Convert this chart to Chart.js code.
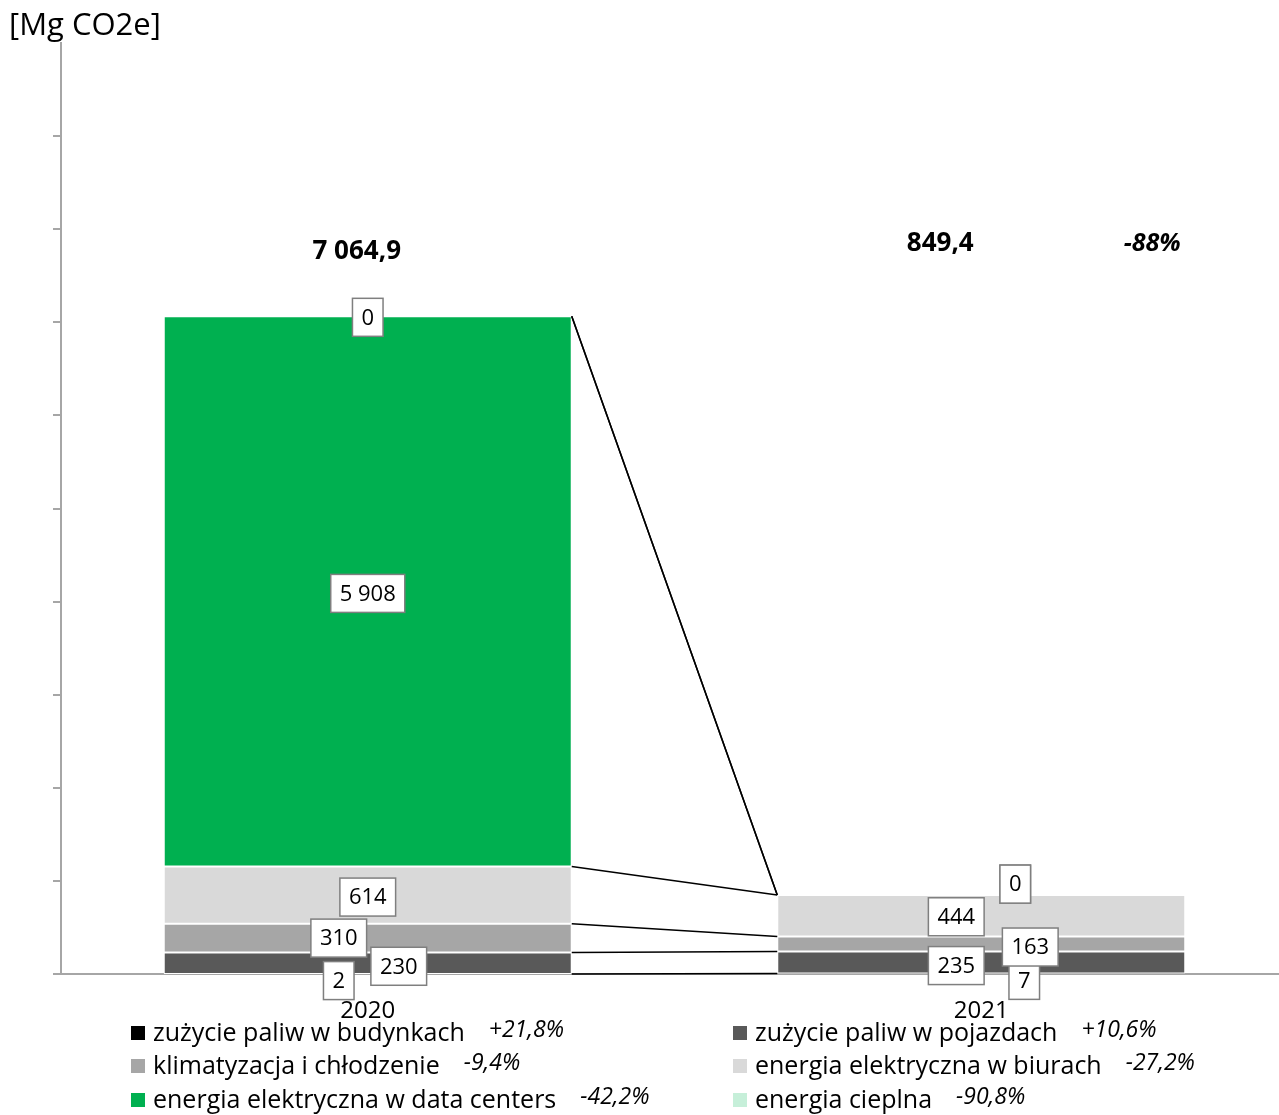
<!DOCTYPE html>
<html lang="pl">
<head>
<meta charset="utf-8">
<script src="https://cdn.jsdelivr.net/npm/chart.js@4.4.1/dist/chart.umd.min.js"></script>
<style>
  html, body { margin: 0; padding: 0; background: #fff; overflow: hidden; }
</style>
</head>
<body>
<canvas id="emisje" width="1290" height="1115"></canvas>
<script>
// lata
var years = ['2020', '2021'];

// emisje wg źródła [Mg CO2e], od dołu stosu
var seriesNames = [
  'zużycie paliw w budynkach',
  'zużycie paliw w pojazdach',
  'klimatyzacja i chłodzenie',
  'energia elektryczna w biurach',
  'energia elektryczna w data centers',
  'energia cieplna'
];
var budynki = [2.3, 7.2];
var pojazdy = [230.2, 235.3];
var klima = [310.1, 163.1];
var biura = [614.2, 443.8];
var dataCenters = [5908.1, 0];
var cieplna = [0, 0];

// zmiana r/r podana w legendzie
var zmiana = ['+21,8%', '+10,6%', '-9,4%', '-27,2%', '-42,2%', '-90,8%'];

var yMax = 10000;
var yStep = 1000;

var colors = ['#000000', '#595959', '#a6a6a6', '#d9d9d9', '#00b050', '#c6efd9'];

// przesunięcia etykiet (px), żeby się nie nakładały
var labelShift = [
  [[-29, 7], [43, 7]],
  [[31, 3], [-25, 3]],
  [[-29, 0], [49, 3]],
  [[0, 2], [-25, 1]],
  [[0, 2], [34, -11]],
  [[0, 1], [34, -11]]
];

var FONT = '"Open Sans", "Noto Sans", sans-serif';

function groupThousands(s) {
  return s.replace(/\B(?=(\d{3})+(?!\d))/g, ' ');
}
function fmtInt(v) {
  return groupThousands(String(Math.round(v)));
}
function fmtDec(v) {
  var parts = v.toFixed(1).split('.');
  return groupThousands(parts[0]) + ',' + parts[1];
}

var allSeries = [budynki, pojazdy, klima, biura, dataCenters, cieplna];
var totals = years.map(function (y, i) {
  var s = 0;
  allSeries.forEach(function (arr) { s += arr[i]; });
  return s;
});

var datasets = allSeries.map(function (arr, d) {
  return {
    label: seriesNames[d],
    data: arr,
    backgroundColor: colors[d],
    borderColor: '#ffffff',
    borderWidth: 1,
    borderSkipped: false,
    barPercentage: 0.665,
    categoryPercentage: 1
  };
});

// linie łączące górne krawędzie segmentów obu słupków
var connectors = {
  id: 'connectors',
  afterDatasetsDraw: function (chart) {
    var ctx = chart.ctx;
    ctx.save();
    ctx.strokeStyle = '#000';
    ctx.lineWidth = 1.5;
    chart.data.datasets.forEach(function (ds, d) {
      var meta = chart.getDatasetMeta(d);
      var a = meta.data[0], b = meta.data[1];
      ctx.beginPath();
      ctx.moveTo(a.x + a.width / 2, a.y);
      ctx.lineTo(b.x - b.width / 2, b.y);
      ctx.stroke();
    });
    ctx.restore();
  }
};

// etykiety wartości w ramkach
var boxLabels = {
  id: 'boxLabels',
  afterDatasetsDraw: function (chart) {
    var ctx = chart.ctx;
    ctx.save();
    ctx.font = '22px ' + FONT;
    ctx.textAlign = 'center';
    ctx.textBaseline = 'middle';
    chart.data.datasets.forEach(function (ds, d) {
      var meta = chart.getDatasetMeta(d);
      meta.data.forEach(function (el, i) {
        var txt = fmtInt(ds.data[i]);
        var cx = el.x + labelShift[d][i][0];
        var cy = (el.y + el.base) / 2 + labelShift[d][i][1];
        var w = ctx.measureText(txt).width + 18;
        var h = 38;
        ctx.fillStyle = '#fff';
        ctx.fillRect(cx - w / 2, cy - h / 2, w, h);
        ctx.strokeStyle = '#7f7f7f';
        ctx.lineWidth = 1.5;
        ctx.strokeRect(cx - w / 2, cy - h / 2, w, h);
        ctx.fillStyle = '#000';
        ctx.fillText(txt, cx, cy + 1);
      });
    });
    ctx.restore();
  }
};

// sumy, jednostka i legenda
var extras = {
  id: 'extras',
  afterDraw: function (chart) {
    var ctx = chart.ctx;
    var x = chart.scales.x;
    var top = chart.chartArea.top;
    ctx.save();
    ctx.fillStyle = '#000';
    ctx.textBaseline = 'middle';

    ctx.textAlign = 'left';
    ctx.font = '31px ' + FONT;
    ctx.fillText('[Mg CO2e]', 9, 26);

    ctx.textAlign = 'center';
    ctx.font = 'bold 26px ' + FONT;
    ctx.fillText(fmtDec(totals[0]), x.getPixelForValue(0) - 11, top + 209);
    ctx.fillText(fmtDec(totals[1]), x.getPixelForValue(1) - 41, top + 201);
    var pct = Math.round((totals[1] / totals[0] - 1) * 100);
    ctx.font = 'italic bold 25px ' + FONT;
    ctx.fillText(pct + '%', x.getPixelForValue(1) + 171, top + 201);

    // legenda w dwóch kolumnach
    var colX = [131, 733];
    var rowY = [1033, 1066, 1100];
    ctx.textAlign = 'left';
    seriesNames.forEach(function (name, d) {
      var lx = colX[d % 2];
      var ly = rowY[Math.floor(d / 2)];
      ctx.fillStyle = colors[d];
      ctx.fillRect(lx, ly - 7, 14, 14);
      ctx.fillStyle = '#000';
      ctx.font = '25px ' + FONT;
      ctx.fillText(name, lx + 22, ly + 1);
      var tw = ctx.measureText(name).width;
      ctx.font = 'italic 23px ' + FONT;
      ctx.fillText(zmiana[d], lx + 22 + tw + 24, ly - 3);
    });
    ctx.restore();
  }
};

var ctx = document.getElementById('emisje').getContext('2d');
var chart = new Chart(ctx, {
  type: 'bar',
  data: {
    labels: years,
    datasets: datasets
  },
  options: {
    responsive: false,
    animation: false,
    layout: {
      padding: { left: 53, top: 43, right: 2, bottom: 74 }
    },
    plugins: {
      legend: { display: false },
      tooltip: { enabled: false },
      title: { display: false }
    },
    scales: {
      x: {
        stacked: true,
        grid: { display: false },
        border: { display: true, color: '#a6a6a6', width: 2 },
        ticks: {
          color: '#000',
          padding: 15,
          font: { family: FONT, size: 24 }
        }
      },
      y: {
        stacked: true,
        min: 0,
        max: yMax,
        ticks: { display: false, stepSize: yStep },
        grid: {
          drawOnChartArea: false,
          drawTicks: true,
          tickLength: 8,
          lineWidth: 2,
          color: function (c) {
            return c.tick && c.tick.value === yMax ? 'rgba(0,0,0,0)' : '#a6a6a6';
          }
        },
        border: { display: true, color: '#a6a6a6', width: 2 }
      }
    }
  },
  plugins: [connectors, boxLabels, extras]
});
</script>
</body>
</html>
